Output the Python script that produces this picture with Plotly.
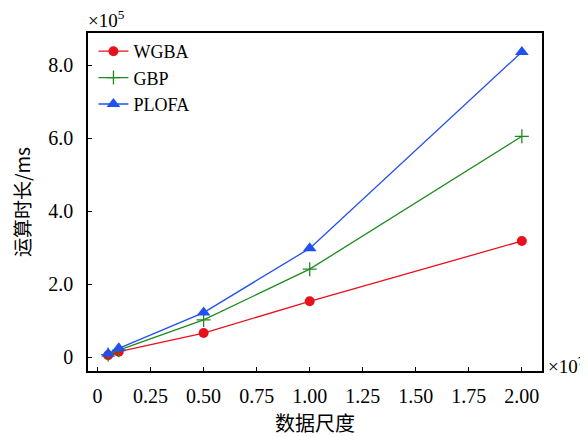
import plotly.graph_objects as go

scale_x = [0.05, 0.1, 0.5, 1.0, 2.0]  # ×10^7
wgba = [0.05, 0.15, 0.66, 1.53, 3.18]  # ×10^5 ms
gbp = [0.07, 0.19, 1.02, 2.41, 6.05]
plofa = [0.09, 0.24, 1.22, 2.98, 8.36]

x_ticks = [0, 0.25, 0.5, 0.75, 1.0, 1.25, 1.5, 1.75, 2.0]
x_tick_text = ["0", "0.25", "0.50", "0.75", "1.00", "1.25", "1.50", "1.75", "2.00"]
y_ticks = [0, 2, 4, 6, 8]
y_tick_text = ["0", "2.0", "4.0", "6.0", "8.0"]

font = "Liberation Serif"
cjk = "Noto Sans CJK SC"

fig = go.Figure()
fig.add_trace(go.Scatter(x=scale_x, y=wgba, name="WGBA", mode="lines+markers",
                         line=dict(color="#e8101c", width=1.3),
                         marker=dict(symbol="circle", size=10, color="#e8101c")))
fig.add_trace(go.Scatter(x=scale_x, y=gbp, name="GBP", mode="lines+markers",
                         line=dict(color="#1e8a1e", width=1.3),
                         marker=dict(symbol="cross-thin", size=10, line=dict(color="#1e8a1e", width=1.3))))
fig.add_trace(go.Scatter(x=scale_x, y=plofa, name="PLOFA", mode="lines+markers",
                         line=dict(color="#2150f0", width=1.3),
                         marker=dict(symbol="triangle-up", size=12, color="#2150f0")))

fig.update_layout(
    width=580, height=429,
    margin=dict(l=80, r=46, t=25, b=66, autoexpand=False),
    paper_bgcolor="white", plot_bgcolor="white",
    font=dict(family=font, size=20, color="black"),
    showlegend=True,
    legend=dict(x=0.012, y=1.0, xanchor="left", yanchor="top",
                bgcolor="rgba(0,0,0,0)", font=dict(family=font, size=18),
                itemwidth=30, tracegroupgap=0),
    xaxis=dict(range=[-0.045, 2.095], tickvals=x_ticks, ticktext=x_tick_text,
               ticks="inside", ticklen=4, tickcolor="black", showgrid=False, zeroline=False,
               showline=True, linecolor="black", linewidth=1.5, mirror=True, automargin=False,
               tickfont=dict(size=20), ticklabelstandoff=6,
               title=dict(text="数据尺度", font=dict(family=cjk, size=20), standoff=19)),
    yaxis=dict(range=[-0.38, 8.88], tickvals=y_ticks, ticktext=y_tick_text,
               ticks="inside", ticklen=4, tickcolor="black", showgrid=False, zeroline=False,
               showline=True, linecolor="black", linewidth=1.5, mirror=True, automargin=False,
               tickfont=dict(size=20), ticklabelstandoff=9,
               title=dict(text="运算时长/ms", font=dict(family=cjk, size=19), standoff=17)),
    annotations=[
        dict(text="×10<sup>5</sup>", xref="paper", yref="paper", x=0, y=1.0, xanchor="left",
             yanchor="bottom", showarrow=False, font=dict(family=font, size=19), xshift=-2),
        dict(text="×10<sup>7</sup>", xref="paper", yref="paper", x=1.0, y=0.0, xanchor="left",
             yanchor="middle", showarrow=False, font=dict(family=font, size=19), xshift=4, yshift=6),
    ],
)
fig.write_html("out.html")
